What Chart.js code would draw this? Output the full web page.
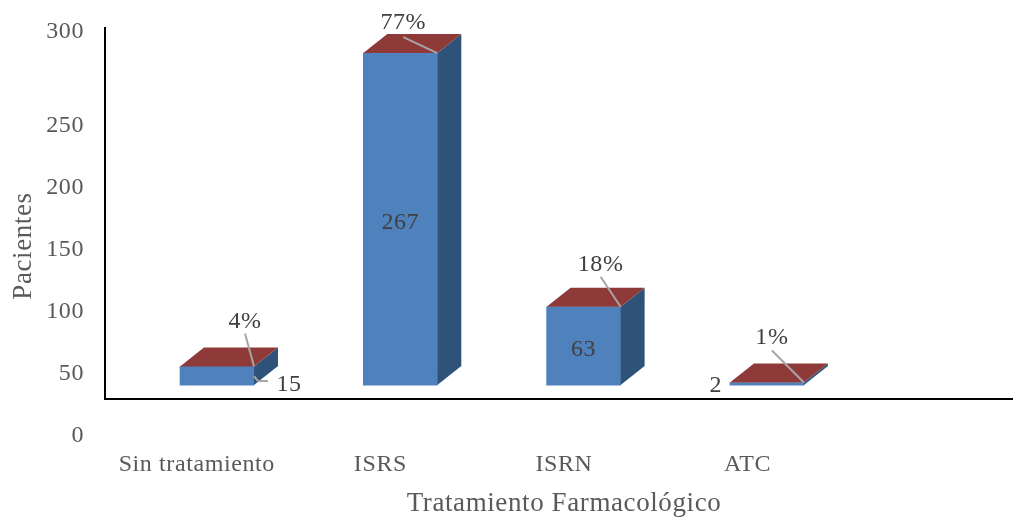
<!DOCTYPE html>
<html lang="es">
<head>
<meta charset="utf-8">
<title>Tratamiento Farmacológico</title>
<script src="https://cdn.jsdelivr.net/npm/chart.js@4"></script>
<style>
  html, body { margin: 0; padding: 0; background: #fff; overflow: hidden; }
  #wrap { width: 1013px; height: 517px; overflow: hidden; }
  canvas { display: block; }
</style>
</head>
<body>
<div id="wrap"><canvas id="chart" width="1023" height="517"></canvas></div>
<script>
// Values
const categories = ['Sin tratamiento', 'ISRS', 'ISRN', 'ATC', ''];
const patients = [15, 267, 63, 2];
const shares = ['4%', '77%', '18%', '1%'];

// Tick labels of the value axis and where each sits on its own label scale
const valueTickLabels = ['0', '50', '100', '150', '200', '250', '300'];
const valueTickStops = [0, 50, 100, 150, 200, 250, 325.8];

// Styling
const FONT = '"Liberation Serif", serif';
const TEXT = '#595959';
const DARK_TEXT = '#404040';
const FRONT = '#4F81BD';
const SIDE = '#2F5279';
const TOP = '#8E3A38';
const LEADER = '#A6A6A6';
const DEPTH_X = 24;
const DEPTH_Y = 19;
const SPACING = '0.6px';
const FLOOR_VALUE = -11.3; // the horizontal axis line sits a little below the bars

// Leader start, relative to the front top-right corner of each bar
const shareLeaderStart = [[-9, -33], [-34, -16], [-20, -30], [-32, -32]];
const shareLabelRise = [12, 14, 12, 13];

function poly(ctx, pts, fill) {
  ctx.beginPath();
  pts.forEach(([x, y], i) => (i ? ctx.lineTo(x, y) : ctx.moveTo(x, y)));
  ctx.closePath();
  ctx.fillStyle = fill;
  ctx.fill();
}

function segment(ctx, x0, y0, x1, y1, color, width) {
  ctx.beginPath();
  ctx.moveTo(x0, y0);
  ctx.lineTo(x1, y1);
  ctx.strokeStyle = color;
  ctx.lineWidth = width;
  ctx.stroke();
}

// Extrudes the flat bars into boxes and adds the axis lines and value labels
const boxBars = {
  id: 'boxBars',
  // The context state is reset whenever the canvas is sized, so tracking is set per draw
  beforeDraw(chart) { chart.ctx.letterSpacing = SPACING; },
  afterDatasetsDraw(chart) {
    const { ctx, chartArea, scales } = chart;
    const bars = chart.getDatasetMeta(0).data;
    ctx.save();
    ctx.textAlign = 'center';
    ctx.textBaseline = 'middle';
    ctx.font = '24px ' + FONT;

    bars.forEach((bar, i) => {
      const l = bar.x - bar.width / 2;
      const r = bar.x + bar.width / 2;
      const t = bar.y;
      const b = bar.base;
      poly(ctx, [[r, t], [r + DEPTH_X, t - DEPTH_Y], [r + DEPTH_X, b - DEPTH_Y], [r, b]], SIDE);
      poly(ctx, [[l, t], [l + DEPTH_X, t - DEPTH_Y], [r + DEPTH_X, t - DEPTH_Y], [r, t]], TOP);

      const [dx, dy] = shareLeaderStart[i];
      segment(ctx, r + dx, t + dy, r, t, LEADER, 2);
      ctx.fillStyle = DARK_TEXT;
      ctx.fillText(shares[i], r + dx, t + dy - shareLabelRise[i]);
    });

    // Count labels: inside the tall bars, beside the short ones
    bars.forEach((bar, i) => {
      const r = bar.x + bar.width / 2;
      const l = bar.x - bar.width / 2;
      ctx.fillStyle = DARK_TEXT;
      if (patients[i] > 50) {
        ctx.fillText(String(patients[i]), bar.x, (bar.y + bar.base) / 2 + 4);
      } else if (patients[i] > 10) {
        segment(ctx, r, bar.base - 9, r + 4, bar.base - 4, LEADER, 2);
        segment(ctx, r + 4, bar.base - 4, r + 14, bar.base - 4, LEADER, 2);
        ctx.fillText(String(patients[i]), r + 35, bar.base);
      } else {
        ctx.fillText(String(patients[i]), l - 14, bar.base + 1);
      }
    });

    // Axis lines
    const floor = scales.y.getPixelForValue(FLOOR_VALUE);
    segment(ctx, chartArea.left, chartArea.top, chartArea.left, floor + 1, '#000', 2);
    segment(ctx, chartArea.left - 1, floor, chartArea.right, floor, '#000', 2);

    // Vertical axis title, centred on the drawn axis line rather than the plot area
    ctx.save();
    ctx.translate(24, (chartArea.top + floor) / 2 + 33);
    ctx.rotate(-Math.PI / 2);
    ctx.font = '27px ' + FONT;
    ctx.fillStyle = TEXT;
    ctx.fillText('Pacientes', 0, 0);
    ctx.restore();
    ctx.restore();
  }
};

new Chart(document.getElementById('chart'), {
  type: 'bar',
  data: {
    labels: categories,
    datasets: [{
      data: patients.map((v, i) => ({ x: i, y: v })),
      backgroundColor: FRONT,
      xAxisID: 'xBars',
      yAxisID: 'y',
      barThickness: 74
    }]
  },
  options: {
    responsive: false,
    animation: false,
    layout: { padding: { top: 27, left: 0, right: 0, bottom: 0 } },
    plugins: { legend: { display: false }, tooltip: { enabled: false } },
    scales: {
      x: {
        type: 'category',
        position: 'bottom',
        offset: true,
        grid: { display: false, drawTicks: false },
        border: { display: false },
        ticks: {
          color: TEXT, padding: 10, maxRotation: 0, autoSkip: false,
          font: { family: FONT, size: 24 }
        },
        title: {
          display: true, text: 'Tratamiento Farmacológico', color: TEXT,
          font: { family: FONT, size: 27 }, padding: { top: 8, bottom: -3 }
        },
        afterFit(scale) {
          scale.height = 77;
          scale.paddingLeft = 0;
          scale.paddingRight = 0;
        }
      },
      xBars: {
        type: 'linear',
        display: false,
        offset: false,
        min: -0.611,
        max: 4.397
      },
      y: {
        type: 'linear',
        display: false,
        min: -44.2,
        max: 288
      },
      yLabels: {
        type: 'linear',
        position: 'left',
        min: -3.2,
        max: 329.9,
        grid: { display: false, drawTicks: false },
        border: { display: false },
        afterBuildTicks(scale) {
          scale.ticks = valueTickStops.map(value => ({ value }));
        },
        ticks: {
          color: TEXT, padding: 21, autoSkip: false,
          font: { family: FONT, size: 24 },
          callback(value) {
            return valueTickLabels[valueTickStops.indexOf(value)];
          }
        },
        afterFit(scale) {
          scale.width = 105;
          scale.paddingTop = 0;
          scale.paddingBottom = 0;
        }
      }
    }
  },
  plugins: [boxBars]
});
</script>
</body>
</html>
